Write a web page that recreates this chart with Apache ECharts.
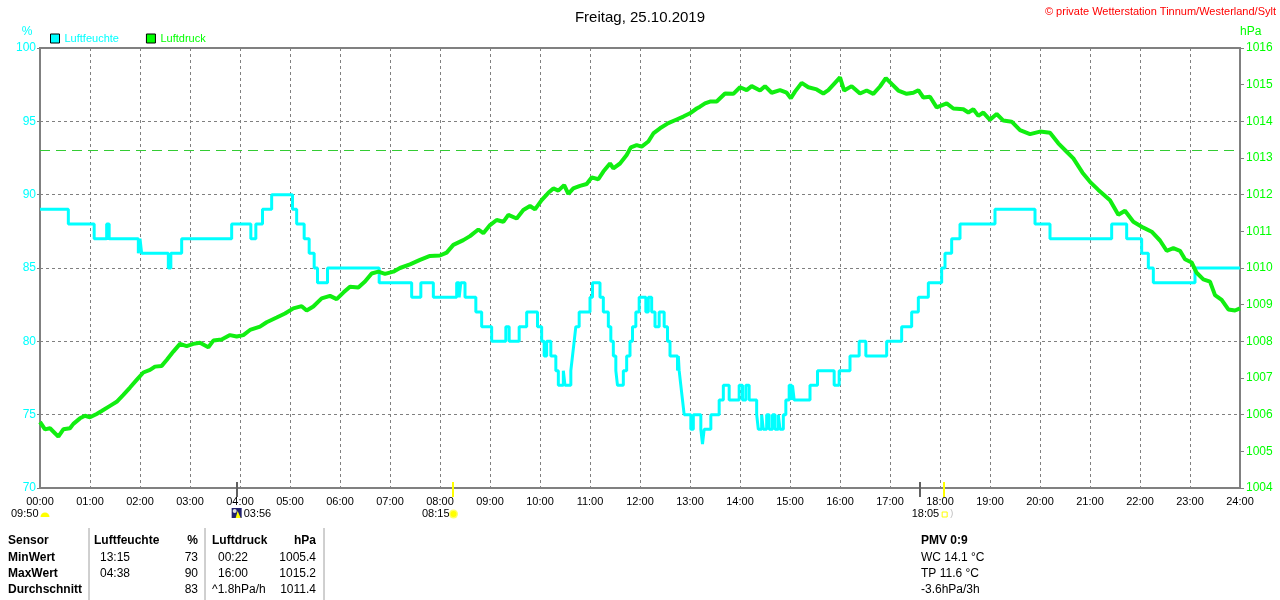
<!DOCTYPE html>
<html>
<head>
<meta charset="utf-8">
<title>Luftfeuchte / Luftdruck</title>
<script src="https://cdn.jsdelivr.net/npm/echarts/dist/echarts.min.js"></script>
<style>
  html, body { margin: 0; padding: 0; background: #fff; }
  #chart { width: 1280px; height: 600px; }
</style>
</head>
<body>
<div id="chart"></div>
<script>
// Luftfeuchte (%) - step changes, value holds until next entry
const humTimes = [
  '00:00','00:34','01:05','01:20','01:23','01:58','02:00','02:02','02:34','02:37',
  '02:50','03:50','04:13','04:19','04:27','04:38','05:03','05:08','05:17','05:23',
  '05:29','05:33','05:45','06:47','07:26','07:37','07:52','08:20','08:23','08:25',
  '08:30','08:43','08:50','09:02','09:19','09:23','09:35','09:44','09:57','10:02',
  '10:05','10:08','10:13','10:19','10:22','10:28','10:30','10:37','10:39','10:41',
  '10:43','10:47','11:00','11:03','11:12','11:16','11:22','11:25','11:28','11:31',
  '11:33','11:40','11:44','11:48','11:51','11:55','11:59','12:07','12:10','12:14',
  '12:18','12:23','12:29','12:33','12:36','12:45','12:46','12:47','12:49','12:51',
  '12:53','13:01','13:04','13:13','13:15','13:17','13:25','13:35','13:40','13:47',
  '13:59','14:03','14:07','14:11','14:20','14:22','14:26','14:28','14:32','14:35',
  '14:39','14:42','14:46','14:48','14:52','14:55','14:59','15:02','15:03','15:05',
  '15:24','15:33','15:53','15:59','16:12','16:23','16:31','16:56','17:14','17:26',
  '17:34','17:46','18:02','18:06','18:14','18:24','19:06','19:54','20:12','21:26',
  '21:44','22:02','22:10','22:16','23:06','24:00'
];
const humValues = [
  89,88,87,88,87,86,87,86,85,86,
  87,88,87,88,89,90,89,88,87,86,
  85,84,85,84,83,84,83,84,83,84,
  83,82,81,80,81,80,81,82,81,80,
  79,80,79,78,77,78,77,78,79,80,
  81,82,83,84,83,82,81,80,79,78,
  77,78,79,80,81,82,83,82,83,82,
  81,82,81,80,79,78,79,78,77,76,
  75,74,75,74,73,74,75,76,77,76,
  77,76,77,76,75,74,75,74,75,74,
  75,74,75,74,75,76,77,76,77,76,
  77,78,77,78,79,80,79,80,81,82,
  83,84,85,86,87,88,89,88,87,88,
  87,86,85,84,85,85
];

// Luftdruck (hPa)
const presTimes = [
  '00:00','00:06','00:12','00:22','00:28','00:36','00:40','00:48','00:54','01:00',
  '01:08','01:14','01:24','01:32','01:40','01:48','01:56','02:04','02:12','02:18',
  '02:26','02:32','02:40','02:48','02:56','03:04','03:12','03:22','03:28','03:38',
  '03:48','03:56','04:04','04:12','04:24','04:32','04:44','04:54','05:04','05:14',
  '05:20','05:28','05:38','05:48','05:56','06:04','06:12','06:22','06:30','06:38',
  '06:46','06:54','07:04','07:12','07:24','07:36','07:48','08:00','08:08','08:16',
  '08:28','08:36','08:46','08:52','09:00','09:08','09:16','09:22','09:32','09:40',
  '09:48','09:54','10:02','10:10','10:16','10:22','10:29','10:34','10:40','10:48',
  '10:56','11:02','11:10','11:16','11:24','11:28','11:36','11:44','11:49','11:56',
  '12:02','12:10','12:16','12:24','12:34','12:44','12:52','13:00','13:08','13:12',
  '13:18','13:24','13:32','13:42','13:52','14:00','14:08','14:14','14:24','14:30',
  '14:38','14:48','14:56','15:01','15:06','15:14','15:22','15:32','15:40','15:46',
  '15:54','16:00','16:05','16:14','16:24','16:32','16:40','16:48','16:55','17:02',
  '17:10','17:20','17:28','17:34','17:40','17:48','17:56','18:08','18:16','18:28',
  '18:34','18:40','18:46','18:52','19:00','19:08','19:16','19:26','19:36','19:48',
  '20:00','20:12','20:22','20:32','20:40','20:51','21:00','21:10','21:24','21:34',
  '21:42','21:52','22:04','22:14','22:24','22:32','22:40','22:48','22:54','23:02',
  '23:08','23:16','23:24','23:30','23:38','23:46','23:54','24:00'
];
const presValues = [
  1005.8,1005.6,1005.63,1005.4,1005.6,1005.63,1005.75,1005.9,1005.97,1005.93,
  1006.02,1006.1,1006.24,1006.35,1006.54,1006.74,1006.95,1007.15,1007.22,1007.31,
  1007.33,1007.49,1007.72,1007.93,1007.87,1007.93,1007.96,1007.84,1008.02,1008.05,
  1008.17,1008.13,1008.17,1008.31,1008.4,1008.52,1008.65,1008.76,1008.9,1008.96,
  1008.84,1008.95,1009.17,1009.24,1009.15,1009.33,1009.49,1009.47,1009.63,1009.85,
  1009.9,1009.84,1009.9,1010.0,1010.1,1010.22,1010.33,1010.34,1010.42,1010.63,
  1010.76,1010.87,1011.05,1010.95,1011.17,1011.31,1011.26,1011.45,1011.35,1011.58,
  1011.69,1011.6,1011.85,1012.05,1012.17,1012.11,1012.26,1012.02,1012.17,1012.24,
  1012.29,1012.47,1012.42,1012.63,1012.85,1012.72,1012.85,1013.08,1013.29,1013.35,
  1013.31,1013.45,1013.67,1013.81,1013.95,1014.05,1014.13,1014.22,1014.35,1014.4,
  1014.49,1014.54,1014.54,1014.76,1014.75,1014.93,1014.85,1014.96,1014.84,1014.96,
  1014.78,1014.85,1014.78,1014.63,1014.81,1015.05,1014.93,1014.87,1014.76,1014.85,
  1015.05,1015.2,1014.84,1014.96,1014.76,1014.84,1014.75,1014.95,1015.18,1015.02,
  1014.84,1014.75,1014.78,1014.85,1014.65,1014.67,1014.38,1014.49,1014.35,1014.33,
  1014.24,1014.33,1014.15,1014.24,1014.04,1014.2,1014.02,1013.99,1013.76,1013.65,
  1013.72,1013.69,1013.4,1013.17,1012.99,1012.6,1012.35,1012.13,1011.85,1011.45,
  1011.56,1011.26,1011.1,1010.99,1010.75,1010.47,1010.54,1010.47,1010.24,1010.15,
  1009.87,1009.69,1009.63,1009.26,1009.13,1008.87,1008.84,1008.9
];
const refPressure = 1013.2;

// Tabelle unten
const tableHead = ['Sensor', 'Luftfeuchte', '%', 'Luftdruck', 'hPa'];
const tableRows = [
  ['MinWert', '13:15', '73', '00:22', '1005.4'],
  ['MaxWert', '04:38', '90', '16:00', '1015.2'],
  ['Durchschnitt', '', '83', '^1.8hPa/h', '1011.4']
];
const extraInfo = ['PMV 0:9', 'WC 14.1 °C', 'TP 11.6 °C', '-3.6hPa/3h'];

// Sonne / Mond
const sunrise = '08:15';
const sunset = '18:05';
const moonrise = '03:56';
const moonMark = '17:36';
const moonInfo = '09:50';

const CYAN = '#00ffff';
const LIME = '#00ff00';
const GRAY = '#808080';
const FONT = '"Liberation Sans", Arial, sans-serif';

function toHours(t) {
  const p = t.split(':').map(Number);
  return p[0] + p[1] / 60;
}
function pad(n) { return (n < 10 ? '0' : '') + n; }

const chart = echarts.init(document.getElementById('chart'));

const option = {
  animation: false,
  backgroundColor: '#fff',
  textStyle: { fontFamily: FONT },
  title: {
    text: 'Freitag, 25.10.2019',
    left: 'center',
    top: 5,
    textStyle: { fontSize: 15, fontWeight: 'normal', color: '#000', fontFamily: FONT }
  },
  legend: {
    left: 50,
    top: 33,
    icon: 'rect',
    itemWidth: 9,
    itemHeight: 9,
    itemGap: 27,
    padding: 0,
    itemStyle: { borderColor: '#000', borderWidth: 1 },
    textStyle: { fontSize: 11, fontFamily: FONT },
    data: [
      { name: 'Luftfeuchte', textStyle: { color: CYAN } },
      { name: 'Luftdruck', textStyle: { color: LIME } }
    ]
  },
  grid: {
    left: 40, right: 40, top: 48, bottom: 112,
    show: true, borderColor: GRAY, borderWidth: 2
  },
  xAxis: {
    type: 'value',
    min: 0, max: 24, interval: 1,
    axisLine: { show: true, lineStyle: { color: GRAY, width: 2 } },
    axisTick: { show: false },
    axisLabel: {
      color: '#000', fontSize: 11, margin: 8, fontFamily: FONT,
      formatter: v => pad(v) + ':00'
    },
    splitLine: { show: true, lineStyle: { color: GRAY, type: [3, 3], width: 1 } }
  },
  yAxis: [
    {
      type: 'value',
      min: 70, max: 100, interval: 5,
      position: 'left',
      axisLine: { show: true, lineStyle: { color: GRAY, width: 2 } },
      axisTick: { show: true, length: 3, lineStyle: { color: GRAY } },
      axisLabel: { color: CYAN, fontSize: 12, margin: 4, fontFamily: FONT },
      splitLine: { show: true, lineStyle: { color: GRAY, type: [3, 3], width: 1 } }
    },
    {
      type: 'value',
      min: 1004, max: 1016, interval: 1,
      position: 'right',
      axisLine: { show: true, lineStyle: { color: GRAY, width: 2 } },
      axisTick: { show: true, length: 4, lineStyle: { color: GRAY } },
      axisLabel: { color: LIME, fontSize: 12, margin: 6, fontFamily: FONT,
        formatter: v => String(v) },
      splitLine: { show: false }
    }
  ],
  series: [
    {
      name: 'Luftfeuchte',
      type: 'line',
      yAxisIndex: 0,
      step: 'end',
      showSymbol: false,
      color: CYAN,
      lineStyle: { color: CYAN, width: 3 },
      data: humTimes.map((t, i) => [toHours(t), humValues[i]])
    },
    {
      name: 'Luftdruck',
      type: 'line',
      yAxisIndex: 1,
      showSymbol: false,
      color: LIME,
      lineStyle: { color: '#11ee11', width: 4 },
      data: presTimes.map((t, i) => [toHours(t), presValues[i]]),
      markLine: {
        silent: true,
        symbol: 'none',
        label: { show: false },
        lineStyle: { color: '#33cc33', type: [10, 6], width: 1 },
        data: [{ yAxis: refPressure }]
      }
    }
  ]
};

chart.setOption(option);

// Texte und Markierungen unter dem Diagramm
const g = [];
const txt = (text, x, y, opts) => g.push({
  type: 'text', silent: true,
  style: Object.assign({
    text: text, x: x, y: y, fill: '#000',
    font: '12px ' + FONT, textAlign: 'left', textVerticalAlign: 'middle'
  }, opts || {})
});

txt('%', 27, 32, { fill: CYAN, font: '12px ' + FONT, textAlign: 'center' });
txt('hPa', 1240, 32, { fill: LIME, font: '12px ' + FONT });
txt('\u00a9 private Wetterstation Tinnum/Westerland/Sylt', 1276, 12,
  { fill: '#ff0000', font: '11px ' + FONT, textAlign: 'right' });

const xAt = t => chart.convertToPixel({ xAxisIndex: 0 }, toHours(t));
const axisY = 488;

// Ticks an der Zeitachse
[[moonrise, '#606060'], [moonMark, '#606060'], [sunrise, '#ffff00'], [sunset, '#ffff00']]
  .forEach(([t, c]) => {
    const x = Math.round(xAt(t));
    g.push({ type: 'line', silent: true, z: 10,
      shape: { x1: x, y1: axisY - 6, x2: x, y2: axisY + 9 },
      style: { stroke: c, lineWidth: 2 } });
  });

// Mond-Info links
txt(moonInfo, 11, 514, { font: '11px ' + FONT });
g.push({ type: 'sector', silent: true,
  shape: { cx: 45, cy: 517, r0: 0, r: 4.5, startAngle: Math.PI, endAngle: 2 * Math.PI },
  style: { fill: '#ffff00' } });

// Mondaufgang
const xm = xAt(moonrise);
g.push({ type: 'rect', silent: true, shape: { x: xm - 5, y: 508, width: 10, height: 10 },
  style: { fill: '#20206e' } });
g.push({ type: 'circle', silent: true, shape: { cx: xm - 2, cy: 511, r: 2 },
  style: { fill: '#dddddd' } });
g.push({ type: 'polygon', silent: true,
  shape: { points: [[xm + 1, 511], [xm + 4, 518], [xm - 1, 518]] },
  style: { fill: '#ffff00' } });
txt(moonrise, xm + 7, 514, { font: '11px ' + FONT });

// Sonnenaufgang
const xs = xAt(sunrise);
txt(sunrise, xs - 3, 514, { font: '11px ' + FONT, textAlign: 'right' });
g.push({ type: 'circle', silent: true, shape: { cx: xs + 1, cy: 514, r: 4.5 },
  style: { fill: '#ffff66' } });
g.push({ type: 'circle', silent: true, shape: { cx: xs + 1, cy: 514, r: 3 },
  style: { fill: '#ffff00' } });

// Sonnenuntergang
const xu = xAt(sunset);
txt(sunset, xu - 5, 514, { font: '11px ' + FONT, textAlign: 'right' });
g.push({ type: 'rect', silent: true, shape: { x: xu - 2, y: 512, width: 5, height: 5 },
  style: { fill: 'none', stroke: '#ffff00', lineWidth: 1 } });
txt(')', xu + 6, 514, { font: '9px ' + FONT, fill: '#bbbbbb' });

// Tabelle
const colX = [8, 94, 198, 212, 316];
const colAlign = ['left', 'left', 'right', 'left', 'right'];
const rowY = [541, 558, 574, 590];
[89, 205, 324].forEach(x => g.push({ type: 'line', silent: true,
  shape: { x1: x, y1: 528, x2: x, y2: 600 },
  style: { stroke: '#a0a0a0', lineWidth: 1 } }));

tableHead.forEach((h, c) => txt(h, colX[c], rowY[0],
  { font: 'bold 12px ' + FONT, textAlign: colAlign[c] }));
tableRows.forEach((row, r) => {
  row.forEach((cell, c) => {
    if (!cell) return;
    let x = colX[c];
    if ((c === 1 || c === 3) && cell.indexOf(':') === 2 && cell.length === 5) x += 6;
    txt(cell, x, rowY[r + 1], {
      font: (c === 0 ? 'bold ' : '') + '12px ' + FONT,
      textAlign: colAlign[c]
    });
  });
});

extraInfo.forEach((s, i) => txt(s, 921, rowY[i],
  { font: (i === 0 ? 'bold ' : '') + '12px ' + FONT }));

chart.setOption({ graphic: { elements: g } });
</script>
</body>
</html>
